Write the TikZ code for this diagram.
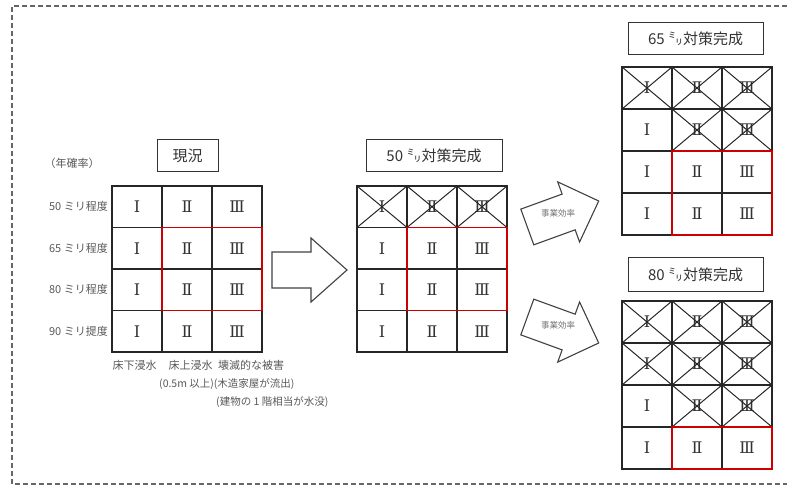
\documentclass[tikz,border=0pt]{standalone}
\usepackage{fontspec}
\setmainfont{Noto Sans CJK JP}
\newfontfamily\romanfont{DejaVu Serif}
\usepackage{tikz}

\begin{document}
\begin{tikzpicture}[x=1pt,y=-1pt,
  cell/.style={shape=rectangle,draw=black!85,line width=1.1pt,minimum width=50pt,minimum height=41.5pt,inner sep=0pt,outer sep=0pt,font=\romanfont\fontsize{16}{16}\selectfont,text=black!80},
  cellb/.style={cell,minimum height=42pt},
  title/.style={shape=rectangle,draw=black!80,line width=1pt,minimum height=32pt,inner sep=0pt,font=\fontsize{15}{15}\selectfont,text=black!80},
  lbl/.style={font=\fontsize{11}{13}\selectfont,text=black!65,inner sep=0pt},
  redbox/.style={draw=red!80!black,line width=1.4pt},
  cross/.style={draw=black!85,line width=1pt},
  blockarrow/.style={draw=black!75,line width=1.1pt,line join=miter}]
\useasboundingbox (0,0) rectangle (787,486);
\draw[black!60,line width=1.2pt,dash pattern=on 5pt off 3pt] (787,6) -- (12,6) -- (12,484) -- (787,484);

% present state
\node(nowtitle)[title,minimum width=61pt] at (187.5,156){現況};
\node(rate)[lbl] at (72,163){（年確率）};
\node(lv50)[lbl,anchor=east] at (108,206.75){50 ミリ程度};
\node(lv65)[lbl,anchor=east] at (108,248.25){65 ミリ程度};
\node(lv80)[lbl,anchor=east] at (108,289.75){80 ミリ程度};
\node(lv90)[lbl,anchor=east] at (108,331.25){90 ミリ提度};
\foreach \r in {1,...,4}
  \foreach \c/\t in {1/Ⅰ,2/Ⅱ,3/Ⅲ}
    \node(now-\r-\c)[cell] at ({112+50*\c-25},{186+41.5*\r-20.75}){\t};
\draw[redbox] (now-2-2.north west) rectangle (now-3-3.south east);
\node(dmg1)[lbl] at (134.5,365){床下浸水};
\node(dmg2)[lbl] at (190.5,365){床上浸水};
\node(dmg3)[lbl] at (251,365){壊滅的な被害};
\node(dmg4)[lbl,anchor=west,font=\fontsize{10.5}{12}\selectfont] at (159,384){(0.5m 以上)(木造家屋が流出)};
\node(dmg5)[lbl,anchor=west,font=\fontsize{10.5}{12}\selectfont] at (216,402){(建物の 1 階相当が水没)};

\draw[blockarrow] (272,252) -- (311,252) -- (311,238) -- (347,270) -- (311,302) -- (311,288) -- (272,288) -- cycle;

% 50 mm plan
\node(p50title)[title,minimum width=136pt] at (434,156){50 ㍉対策完成};
\foreach \r in {1,...,4}
  \foreach \c/\t in {1/Ⅰ,2/Ⅱ,3/Ⅲ}
    \node(p50-\r-\c)[cell] at ({357+50*\c-25},{186+41.5*\r-20.75}){\t};
\foreach \c in {1,2,3}
  \draw[cross] (p50-1-\c.north west) -- (p50-1-\c.south east) (p50-1-\c.north east) -- (p50-1-\c.south west);
\draw[redbox] (p50-2-2.north west) rectangle (p50-3-3.south east);

\begin{scope}[shift={(563,214)},rotate=20]
\draw[blockarrow] (-38,-19) -- (6,-19) -- (6,-32) -- (38,0) -- (6,32) -- (6,19) -- (-38,19) -- cycle;
\end{scope}
\node(eff65)[lbl,font=\fontsize{8.5}{10}\selectfont,text=black!55] at (558,213){事業効率};
\begin{scope}[shift={(563,330)},rotate=-20]
\draw[blockarrow] (-38,-19) -- (6,-19) -- (6,-32) -- (38,0) -- (6,32) -- (6,19) -- (-38,19) -- cycle;
\end{scope}
\node(eff80)[lbl,font=\fontsize{8.5}{10}\selectfont,text=black!55] at (558,325){事業効率};

% 65 mm plan
\node(p65title)[title,minimum width=135pt] at (695.5,39){65 ㍉対策完成};
\foreach \r in {1,...,4}
  \foreach \c/\t in {1/Ⅰ,2/Ⅱ,3/Ⅲ}
    \node(p65-\r-\c)[cellb] at ({622+50*\c-25},{67+42*\r-21}){\t};
\foreach \r/\c in {1/1,1/2,1/3,2/2,2/3}
  \draw[cross] (p65-\r-\c.north west) -- (p65-\r-\c.south east) (p65-\r-\c.north east) -- (p65-\r-\c.south west);
\draw[redbox] (p65-3-2.north west) rectangle (p65-4-3.south east);

% 80 mm plan
\node(p80title)[title,minimum width=135pt,minimum height=34pt] at (695.5,275){80 ㍉対策完成};
\foreach \r in {1,...,4}
  \foreach \c/\t in {1/Ⅰ,2/Ⅱ,3/Ⅲ}
    \node(p80-\r-\c)[cellb] at ({622+50*\c-25},{301+42*\r-21}){\t};
\foreach \r/\c in {1/1,1/2,1/3,2/1,2/2,2/3,3/2,3/3}
  \draw[cross] (p80-\r-\c.north west) -- (p80-\r-\c.south east) (p80-\r-\c.north east) -- (p80-\r-\c.south west);
\draw[redbox] (p80-4-2.north west) rectangle (p80-4-3.south east);
\end{tikzpicture}
\end{document}
